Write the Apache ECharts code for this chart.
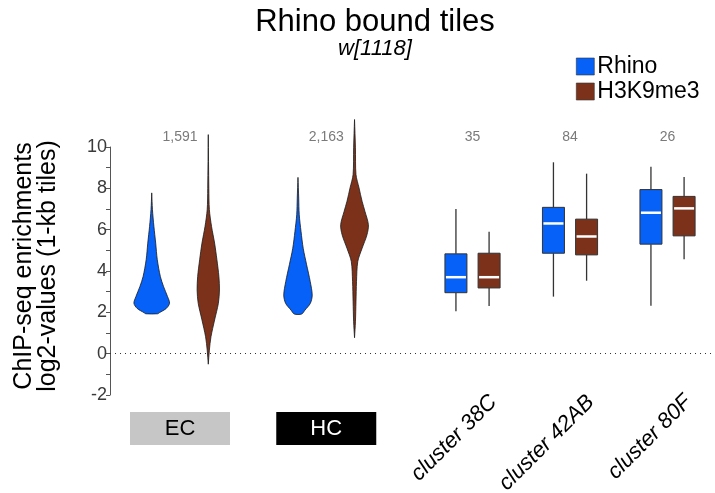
<!DOCTYPE html>
<html>
<head>
<meta charset="utf-8">
<script src="https://cdn.jsdelivr.net/npm/echarts@6/dist/echarts.min.js"></script>
<style>
  html, body { margin: 0; padding: 0; background: #fff; }
  #chart { width: 715px; height: 493px; }
</style>
</head>
<body>
<div id="chart"></div>
<script>
  // groups along the x axis (position in group units)
  const groups = ['EC', 'HC', 'cluster 38C', 'cluster 42AB', 'cluster 80F'];
  const groupPos = [0, 1.5, 3, 4, 5];
  const counts = ['1,591', '2,163', '35', '84', '26'];
  const yTicks = [-2, 0, 2, 4, 6, 8, 10];

  // violin outlines: [log2 value, relative density]
  const ecRhino = [[7.78, 0], [6.97, 0.04], [6.16, 0.12], [5.35, 0.22], [4.54, 0.31], [3.73, 0.48],
    [3.24, 0.66], [2.76, 0.88], [2.44, 0.99], [2.19, 0.81], [1.98, 0.42], [1.93, 0.33]];
  const ecH3K9 = [[10.6, 0], [8.0, 0.03], [6.97, 0.06], [6.16, 0.18], [5.35, 0.35], [4.54, 0.48],
    [3.73, 0.59], [3.08, 0.62], [2.44, 0.56], [1.63, 0.35], [0.82, 0.15], [0.17, 0.06], [-0.51, 0]];
  const hcRhino = [[8.53, 0], [7.53, 0.04], [6.72, 0.07], [5.91, 0.17], [5.1, 0.29], [4.3, 0.48],
    [3.49, 0.68], [2.84, 0.79], [2.44, 0.69], [2.11, 0.39], [1.92, 0.21]];
  const hcH3K9 = [[11.33, 0], [9.96, 0.05], [8.67, 0.08], [8.02, 0.25], [7.37, 0.42], [6.88, 0.58],
    [6.24, 0.77], [5.75, 0.69], [5.1, 0.42], [4.46, 0.18], [3.49, 0.11], [2.51, 0.08], [1.54, 0.05], [0.77, 0]];

  // boxplots for the clusters: [min, q1, median, q3, max]
  const rhinoBox = [[2.05, 2.95, 3.7, 4.83, 7.0], [2.76, 4.86, 6.3, 7.08, 9.26], [2.32, 5.3, 6.82, 7.94, 9.04]];
  const h3k9Box = [[2.31, 3.18, 3.7, 4.86, 5.9], [3.53, 4.78, 5.67, 6.51, 8.71], [4.57, 5.7, 7.03, 7.61, 8.55]];

  const BLUE = '#0561f7';
  const BROWN = '#7c321a';
  const FONT = 'Liberation Sans, Arial, Helvetica, sans-serif';
  const VIOLIN_W = 18;
  const BOX_W = 22;

  function violinItem(profiles, offset, color) {
    return function (params, api) {
      const prof = profiles[params.dataIndex];
      const x = groupPos[params.dataIndex] + offset;
      const cx = api.coord([x, 0])[0];
      const right = prof.map(p => [cx + p[1] * VIOLIN_W, api.coord([x, p[0]])[1]]);
      const left = prof.slice().reverse().map(p => [cx - p[1] * VIOLIN_W, api.coord([x, p[0]])[1]]);
      return {
        type: 'polygon',
        shape: { points: right.concat(left), smooth: 0.3 },
        style: { fill: color, stroke: '#1a1a1a', lineWidth: 0.8 }
      };
    };
  }

  function boxItem(boxes, offset, color) {
    return function (params, api) {
      const b = boxes[params.dataIndex];
      const x = groupPos[params.dataIndex + 2] + offset;
      const cx = api.coord([x, 0])[0];
      const y = b.map(v => api.coord([x, v])[1]);
      const line = { stroke: '#333', lineWidth: 1.3 };
      return {
        type: 'group',
        children: [
          { type: 'line', shape: { x1: cx, y1: y[0], x2: cx, y2: y[1] }, style: line },
          { type: 'line', shape: { x1: cx, y1: y[3], x2: cx, y2: y[4] }, style: line },
          { type: 'rect', shape: { x: cx - BOX_W / 2, y: y[3], width: BOX_W, height: y[1] - y[3] },
            style: { fill: color, stroke: '#333', lineWidth: 1 } },
          { type: 'line', shape: { x1: cx - BOX_W / 2 + 1, y1: y[2], x2: cx + BOX_W / 2 - 1, y2: y[2] },
            style: { stroke: '#fff', lineWidth: 2.5 } }
        ]
      };
    };
  }

  function labelItem(params, api) {
    const i = params.dataIndex;
    const cx = api.coord([groupPos[i], 0])[0];
    const top = api.coord([groupPos[i], 10])[1];
    const kids = [{
      type: 'text', x: cx, y: top - 10,
      style: { text: counts[i], fill: '#7a7a7a', font: '14px ' + FONT, align: 'center', verticalAlign: 'middle' }
    }];
    if (i < 2) {
      const dark = i === 1;
      kids.push({ type: 'rect', shape: { x: cx - 50, y: 412, width: 100, height: 33 },
        style: { fill: dark ? '#000' : '#c6c6c6' } });
      kids.push({ type: 'text', x: cx, y: 429,
        style: { text: groups[i], fill: dark ? '#fff' : '#000', font: '22px ' + FONT, align: 'center', verticalAlign: 'middle' } });
    } else {
      kids.push({ type: 'text', x: cx + 13, y: 391, rotation: Math.PI / 4,
        style: { text: groups[i], fill: '#000', font: 'italic 22px ' + FONT, align: 'right', verticalAlign: 'top' } });
    }
    return { type: 'group', children: kids };
  }

  const chart = echarts.init(document.getElementById('chart'));
  chart.setOption({
    animation: false,
    title: {
      text: 'Rhino bound tiles',
      subtext: 'w[1118]',
      left: 370,
      top: 2,
      textAlign: 'center',
      itemGap: 0,
      textStyle: { fontFamily: FONT, fontSize: 31, fontWeight: 'normal', color: '#000' },
      subtextStyle: { fontFamily: FONT, fontSize: 22, fontStyle: 'italic', color: '#000' }
    },
    legend: {
      orient: 'vertical',
      left: 571,
      top: 50,
      itemWidth: 18,
      itemHeight: 17,
      itemGap: 2,
      icon: 'rect',
      data: ['Rhino', 'H3K9me3'],
      itemStyle: { borderColor: '#333', borderWidth: 0.6 },
      textStyle: { fontFamily: FONT, fontSize: 23, color: '#000', padding: [0, 0, 0, -2] }
    },
    graphic: [{
      type: 'text',
      x: 36, y: 266,
      rotation: Math.PI / 2,
      style: {
        text: 'ChIP-seq enrichments\nlog2-values (1-kb tiles)',
        font: '25px ' + FONT,
        lineHeight: 24,
        fill: '#000',
        align: 'center',
        verticalAlign: 'middle'
      }
    }],
    grid: { left: 110, right: 0, top: 147, bottom: 98 },
    xAxis: { type: 'value', min: -0.718, max: 5.487, show: false },
    yAxis: {
      type: 'value',
      min: yTicks[0],
      max: yTicks[yTicks.length - 1],
      interval: 2,
      splitLine: { show: false },
      axisLine: { show: true, onZero: false, lineStyle: { color: '#555', width: 1 } },
      axisTick: { show: true, length: 4, lineStyle: { color: '#555' } },
      minorTick: { show: true, splitNumber: 2, length: 4, lineStyle: { color: '#555' } },
      axisLabel: { fontFamily: FONT, fontSize: 18, color: '#3a3a3a', margin: 3 }
    },
    series: [
      {
        name: 'Rhino', type: 'custom', itemStyle: { color: BLUE },
        renderItem: violinItem([ecRhino, hcRhino], -0.29, BLUE),
        data: [[groupPos[0], 0], [groupPos[1], 0]],
        markLine: {
          silent: true, symbol: 'none', label: { show: false },
          lineStyle: { type: [1, 4], color: '#333', width: 1 },
          data: [{ yAxis: 0 }]
        }
      },
      {
        name: 'H3K9me3', type: 'custom', itemStyle: { color: BROWN },
        renderItem: violinItem([ecH3K9, hcH3K9], 0.29, BROWN),
        data: [[groupPos[0], 0], [groupPos[1], 0]]
      },
      {
        name: 'Rhino', type: 'custom', itemStyle: { color: BLUE },
        renderItem: boxItem(rhinoBox, -0.17, BLUE),
        data: rhinoBox.map((b, i) => [groupPos[i + 2], b[2]])
      },
      {
        name: 'H3K9me3', type: 'custom', itemStyle: { color: BROWN },
        renderItem: boxItem(h3k9Box, 0.17, BROWN),
        data: h3k9Box.map((b, i) => [groupPos[i + 2], b[2]])
      },
      {
        name: 'labels', type: 'custom', silent: true,
        renderItem: labelItem,
        data: groupPos.map(p => [p, 0])
      }
    ]
  });
</script>
</body>
</html>
